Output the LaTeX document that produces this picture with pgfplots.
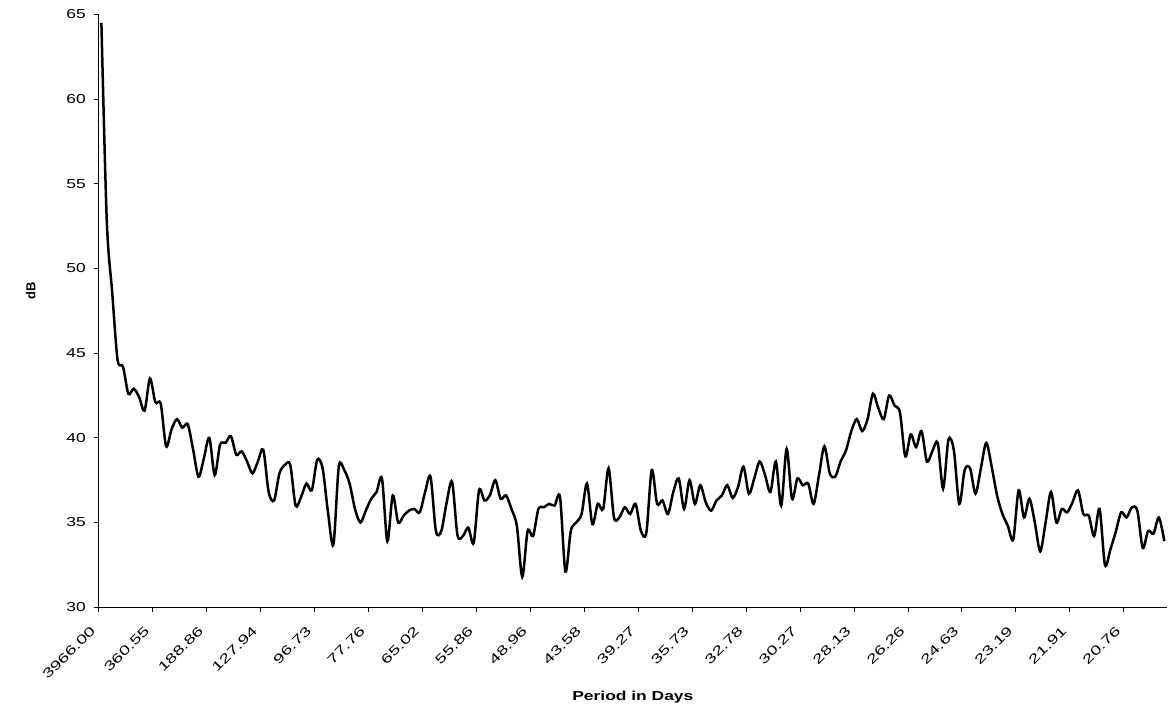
\documentclass[border=0pt]{standalone}
\usepackage{pgfplots}
\pgfplotsset{compat=1.18}
\usepackage{pgfplotstable}
\usepackage{graphicx}
\usepackage{fontspec}
% the reference chart was stretched sideways, its level text with it
\setmainfont{Liberation Sans}[FakeStretch=1.34]
\newfontfamily\plainsans{Liberation Sans}
\newcommand{\sx}[1]{\scalebox{1.45}[1]{#1}}

% power spectrum, one row per category (period 3966/k days)
\pgfplotstableread{
i db
0 64.5
1 52.8
2 48.6
3 44.6
4 44.2
5 42.6
6 42.9
7 42.4
8 41.6
9 43.5
10 42.1
11 42.0
12 39.5
13 40.5
14 41.1
15 40.6
16 40.8
17 39.3
18 37.7
19 38.8
20 40.0
21 37.8
22 39.6
23 39.7
24 40.1
25 39.0
26 39.2
27 38.6
28 37.9
29 38.6
30 39.3
31 36.8
32 36.3
33 37.9
34 38.4
35 38.4
36 36.0
37 36.5
38 37.3
39 36.9
40 38.7
41 38.2
42 35.6
43 33.7
44 38.3
45 38.1
46 37.3
47 35.8
48 35.0
49 35.7
50 36.4
51 36.8
52 37.6
53 33.9
54 36.6
55 35.0
56 35.4
57 35.7
58 35.8
59 35.6
60 36.8
61 37.7
62 34.5
63 34.5
64 36.2
65 37.4
66 34.25
67 34.2
68 34.7
69 33.8
70 36.9
71 36.3
72 36.6
73 37.5
74 36.4
75 36.6
76 35.8
77 34.8
78 31.8
79 34.5
80 34.2
81 35.8
82 35.9
83 36.1
84 36.0
85 36.5
86 32.1
87 34.5
88 35.0
89 35.5
90 37.3
91 34.9
92 36.1
93 35.8
94 38.2
95 35.3
96 35.3
97 35.9
98 35.5
99 36.1
100 34.5
101 34.4
102 38.1
103 36.1
104 36.3
105 35.5
106 36.8
107 37.6
108 35.8
109 37.5
110 36.1
111 37.2
112 36.2
113 35.7
114 36.3
115 36.6
116 37.2
117 36.45
118 37.1
119 38.3
120 36.7
121 37.6
122 38.6
123 37.8
124 36.8
125 38.6
126 36.0
127 39.35
128 36.4
129 37.6
130 37.2
131 37.3
132 36.1
133 37.8
134 39.5
135 37.9
136 37.7
137 38.6
138 39.25
139 40.4
140 41.1
141 40.4
142 41.1
143 42.6
144 41.75
145 41.1
146 42.5
147 41.9
148 41.5
149 38.9
150 40.2
151 39.45
152 40.4
153 38.6
154 39.2
155 39.7
156 37.0
157 39.9
158 39.25
159 36.1
160 38.1
161 38.2
162 36.7
163 38.2
164 39.7
165 38.3
166 36.6
167 35.5
168 34.8
169 34.0
170 36.9
171 35.3
172 36.4
173 35.0
174 33.3
175 35.0
176 36.8
177 35.0
178 35.8
179 35.6
180 36.2
181 36.9
182 35.5
183 35.4
184 34.2
185 35.8
186 32.5
187 33.4
188 34.45
189 35.6
190 35.3
191 35.9
192 35.7
193 33.5
194 34.5
195 34.35
196 35.3
197 33.9
}\spectrum

\begin{document}
\begin{tikzpicture}
\begin{axis}[
  scale only axis,
  width=640.98pt, height=355.74pt,
  xmin=-0.5, xmax=197.5,
  ymin=30, ymax=65,
  axis x line*=bottom, axis y line*=left,
  axis line style={-, black, line width=0.6pt},
  tick align=outside,
  major tick length=3pt,
  tick style={black, line width=0.6pt},
  xtick={-0.5,9.5,19.5,29.5,39.5,49.5,59.5,69.5,79.5,89.5,99.5,109.5,119.5,129.5,139.5,149.5,159.5,169.5,179.5,189.5},
  xticklabels={\sx{3966.00},\sx{360.55},\sx{188.86},\sx{127.94},\sx{96.73},\sx{77.76},\sx{65.02},\sx{55.86},\sx{48.96},\sx{43.58},\sx{39.27},\sx{35.73},\sx{32.78},\sx{30.27},\sx{28.13},\sx{26.26},\sx{24.63},\sx{23.19},\sx{21.91},\sx{20.76}},
  ytick={30,35,40,45,50,55,60,65},
  /pgf/number format/assume math mode=true,
  yticklabel style={font=\fontsize{7.8}{9}\selectfont, xshift=-3.6pt, inner sep=1pt},
  xticklabel style={font=\plainsans\fontsize{7.8}{9}\selectfont, xshift=-2.6pt, yshift=-9pt, rotate=45, anchor=east, inner sep=1pt},
  every axis x label/.style={at={(axis description cs:0.5,-0.152)}, anchor=center, font=\bfseries\fontsize{7.8}{9}\selectfont},
  every axis y label/.style={at={(axis description cs:-0.0637,0.533)}, rotate=90, anchor=center, font=\plainsans\bfseries\fontsize{7.8}{9}\selectfont},
  xlabel={Period in Days},
  ylabel={dB},
  clip=false,
]
\addplot[black, line width=1.5pt, smooth, tension=0.5, mark=none] table[x=i, y=db] {\spectrum};
\end{axis}
\pgfresetboundingbox
\path (-59.22pt,-64.68pt) rectangle (642.18pt,364.32pt);
\end{tikzpicture}
\end{document}
